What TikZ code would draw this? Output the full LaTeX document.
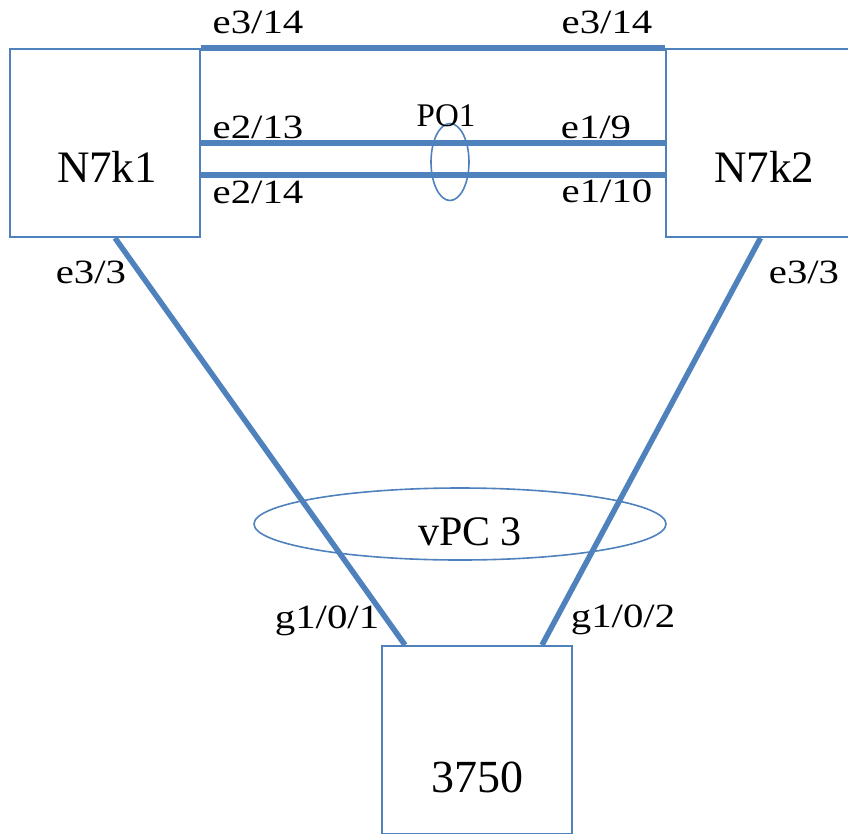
\documentclass[tikz,border=0pt]{standalone}
\usepackage{fontspec}
\setmainfont{Liberation Serif}
\newfontfamily\portfont[FakeStretch=1.2]{Liberation Serif}
\usetikzlibrary{positioning,shapes.geometric}
\definecolor{linkblue}{HTML}{4F81BD}

\begin{document}
\begin{tikzpicture}[x=1pt,y=-1pt,on grid,
  switch/.style={draw=linkblue,line width=2pt,minimum width=190pt,minimum height=188pt,inner sep=0pt},
  link/.style={draw=linkblue,line width=5.5pt},
  bundle/.style={draw=linkblue,line width=1.6pt,ellipse,inner sep=0pt},
  port/.style={font=\portfont\fontsize{34}{34}\selectfont,anchor=base,inner sep=0pt},
  devname/.style={font=\fontsize{45}{45}\selectfont,anchor=base,inner sep=0pt}]
   \useasboundingbox (0,0) rectangle (848,833);
   \node[switch] (n7k1) at (104.5,143) {};
   \node[switch] (n7k2) [right=656pt of n7k1] {};
   \node[switch] (sw3750) [below right=597pt and 372.5pt of n7k1] {};
   \node[bundle,minimum width=38pt,minimum height=77pt] (po1) at (450,162) {};
   \node[bundle,minimum width=412pt,minimum height=72pt] (vpc3) at (460,524) {};
   \draw[link] (n7k1.north east) -- (n7k2.north west);
   \draw[link] (n7k1.east) -- (n7k2.west);
   \draw[link] ([yshift=-32pt]n7k1.east) -- ([yshift=-32pt]n7k2.west);
   \draw[link] ([xshift=10.5pt]n7k1.south) -- ([xshift=-72pt]sw3750.north);
   \draw[link] (n7k2.south) -- ([xshift=65pt]sw3750.north);
   % names
   \node[devname] (n7k1 name) at (107,182) {N7k1};
   \node[devname] (n7k2 name) at (764,182) {N7k2};
   \node[devname,font=\fontsize{46}{46}\selectfont] (sw3750 name) at (477,792) {3750};
   \node[devname,font=\fontsize{33}{33}\selectfont] (po1 name) at (446,126) {PO1};
   \node[devname,font=\fontsize{42}{42}\selectfont] (vpc3 name) at (470,545) {vPC 3};
   % ports
   \node[port] (p a) at (258,33) {e3/14};
   \node[port] (p b) at (607,33) {e3/14};
   \node[port] (p c) at (258,138) {e2/13};
   \node[port] (p d) at (258,203) {e2/14};
   \node[port] (p e) at (596,138) {e1/9};
   \node[port] (p f) at (607,202) {e1/10};
   \node[port] (p g) at (91,283) {e3/3};
   \node[port] (p h) at (804,283) {e3/3};
   \node[port] (p i) at (327,628) {g1/0/1};
   \node[port] (p j) at (623,627) {g1/0/2};
\end{tikzpicture}
\end{document}
